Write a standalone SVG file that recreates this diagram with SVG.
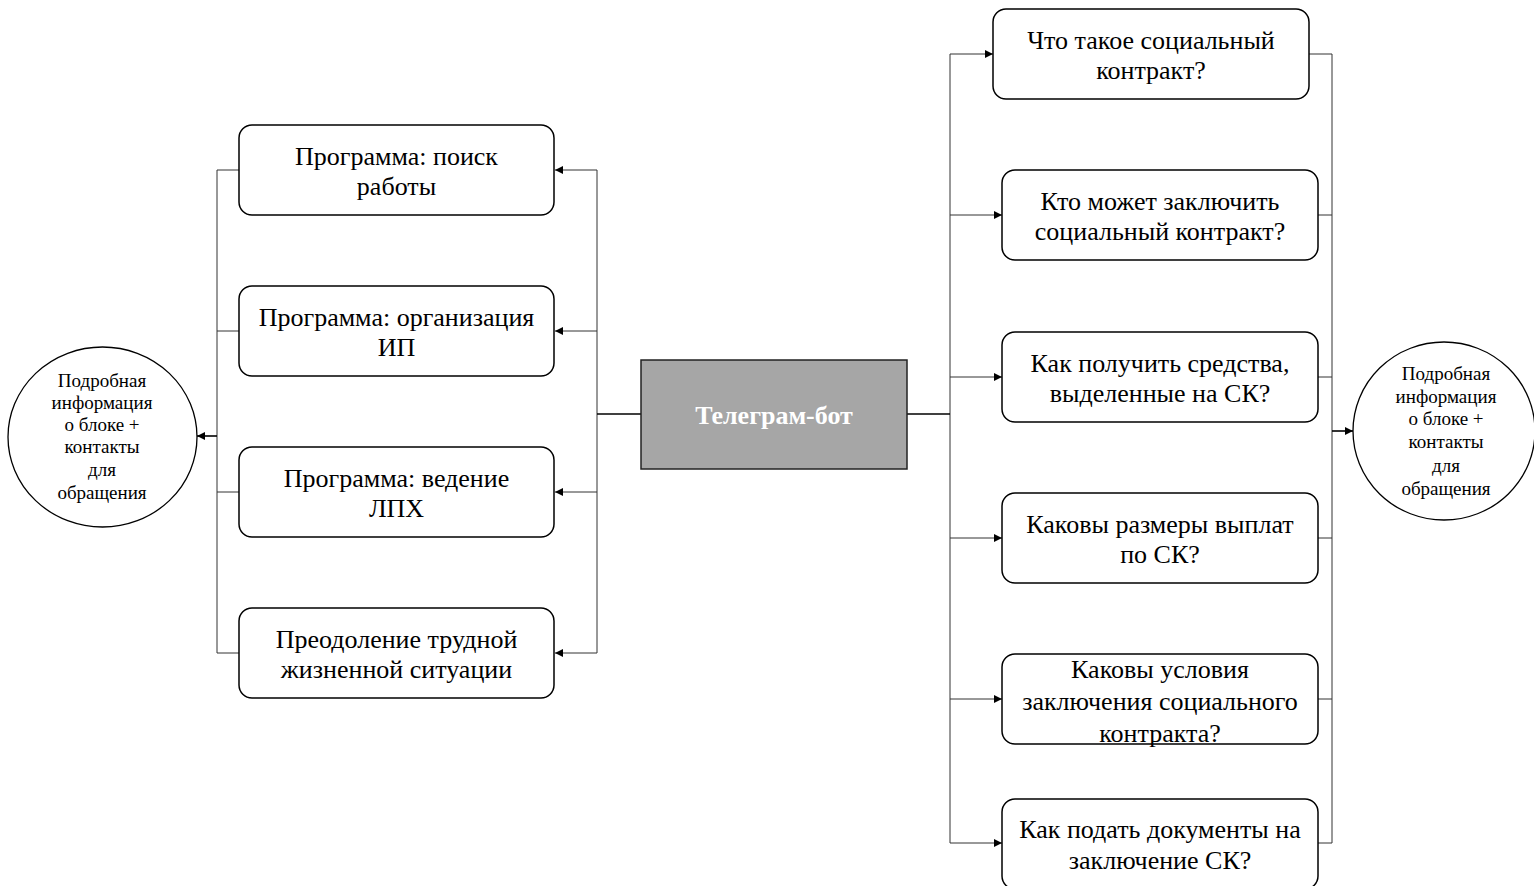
<svg xmlns="http://www.w3.org/2000/svg" width="1534" height="886" viewBox="0 0 1534 886">
<defs>
<style>
.box{fill:#fff;stroke:#000;stroke-width:1.5}
.t{font-family:"Liberation Serif","Times New Roman",serif;font-size:26px;fill:#000;text-anchor:middle}
.c{font-family:"Liberation Serif","Times New Roman",serif;font-size:19px;fill:#000;text-anchor:middle}
.ln{fill:none;stroke:#333;stroke-width:1}
.lnb{fill:none;stroke:#000;stroke-width:1.6}
</style>
<marker id="ah" viewBox="0 0 10 10" refX="10" refY="5" markerWidth="9" markerHeight="8" markerUnits="userSpaceOnUse" orient="auto">
<path d="M0,0 L10,5 L0,10 z" fill="#000"/>
</marker>
</defs>
<rect width="1534" height="886" fill="#fff"/>
<g id="connectors">
<path class="ln" d="M597,170 V653"/>
<path class="lnb" d="M597,414 H641"/>
<path class="ln" d="M597,170 H555" marker-end="url(#ah)"/>
<path class="ln" d="M597,331 H555" marker-end="url(#ah)"/>
<path class="ln" d="M597,492 H555" marker-end="url(#ah)"/>
<path class="ln" d="M597,653 H555" marker-end="url(#ah)"/>
<path class="ln" d="M217,170 V653 M239,170 H217 M239,331 H217 M239,492 H217 M239,653 H217"/>
<path class="lnb" d="M217,436 H197" marker-end="url(#ah)"/>
<path class="ln" d="M950,54 V843"/>
<path class="lnb" d="M907,414 H950"/>
<path class="ln" d="M950,54 H993" marker-end="url(#ah)"/>
<path class="ln" d="M950,215 H1002" marker-end="url(#ah)"/>
<path class="ln" d="M950,377 H1002" marker-end="url(#ah)"/>
<path class="ln" d="M950,538 H1002" marker-end="url(#ah)"/>
<path class="ln" d="M950,699 H1002" marker-end="url(#ah)"/>
<path class="ln" d="M950,843 H1002" marker-end="url(#ah)"/>
<path class="ln" d="M1332,54 V843 M1309,54 H1332 M1318,215 H1332 M1318,377 H1332 M1318,538 H1332 M1318,699 H1332 M1318,843 H1332"/>
<path class="lnb" d="M1332,431 H1353" marker-end="url(#ah)"/>
</g>
<g id="center">
<rect x="641" y="360" width="266" height="109" fill="#a6a6a6" stroke="#222" stroke-width="1.5"/>
<text x="774" y="424" font-family="Liberation Serif, serif" font-size="26" font-weight="bold" fill="#fff" text-anchor="middle">Телеграм-бот</text>
</g>
<g id="left1">
<rect class="box" x="239" y="125" width="315" height="90" rx="13"/>
<text class="t" x="396.5" y="165">Программа: поиск</text>
<text class="t" x="396.5" y="195">работы</text>
</g>
<g id="left2">
<rect class="box" x="239" y="286" width="315" height="90" rx="13"/>
<text class="t" x="396.5" y="326">Программа: организация</text>
<text class="t" x="396.5" y="356">ИП</text>
</g>
<g id="left3">
<rect class="box" x="239" y="447" width="315" height="90" rx="13"/>
<text class="t" x="396.5" y="487">Программа: ведение</text>
<text class="t" x="396.5" y="517">ЛПХ</text>
</g>
<g id="left4">
<rect class="box" x="239" y="608" width="315" height="90" rx="13"/>
<text class="t" x="396.5" y="648">Преодоление трудной</text>
<text class="t" x="396.5" y="678">жизненной ситуации</text>
</g>
<g id="leftCircle">
<ellipse cx="102.5" cy="437" rx="94.5" ry="90" fill="#fff" stroke="#000" stroke-width="1.3"/>
<text class="c" x="102" y="387">Подробная</text>
<text class="c" x="102" y="409">информация</text>
<text class="c" x="102" y="431">о блоке +</text>
<text class="c" x="102" y="453">контакты</text>
<text class="c" x="102" y="476">для</text>
<text class="c" x="102" y="499">обращения</text>
</g>
<g id="right1">
<rect class="box" x="993" y="9" width="316" height="90" rx="13"/>
<text class="t" x="1151" y="49">Что такое социальный</text>
<text class="t" x="1151" y="79">контракт?</text>
</g>
<g id="right2">
<rect class="box" x="1002" y="170" width="316" height="90" rx="13"/>
<text class="t" x="1160" y="210">Кто может заключить</text>
<text class="t" x="1160" y="240">социальный контракт?</text>
</g>
<g id="right3">
<rect class="box" x="1002" y="332" width="316" height="90" rx="13"/>
<text class="t" x="1160" y="372">Как получить средства,</text>
<text class="t" x="1160" y="402">выделенные на СК?</text>
</g>
<g id="right4">
<rect class="box" x="1002" y="493" width="316" height="90" rx="13"/>
<text class="t" x="1160" y="533">Каковы размеры выплат</text>
<text class="t" x="1160" y="563">по СК?</text>
</g>
<g id="right5">
<rect class="box" x="1002" y="654" width="316" height="90" rx="13"/>
<text class="t" x="1160" y="678">Каковы условия</text>
<text class="t" x="1160" y="710">заключения социального</text>
<text class="t" x="1160" y="742">контракта?</text>
</g>
<g id="right6">
<rect class="box" x="1002" y="799" width="316" height="90" rx="13"/>
<text class="t" x="1160" y="838">Как подать документы на</text>
<text class="t" x="1160" y="869">заключение СК?</text>
</g>
<g id="rightCircle">
<ellipse cx="1444" cy="431" rx="91" ry="89" fill="#fff" stroke="#000" stroke-width="1.3"/>
<text class="c" x="1446" y="380">Подробная</text>
<text class="c" x="1446" y="403">информация</text>
<text class="c" x="1446" y="425">о блоке +</text>
<text class="c" x="1446" y="448">контакты</text>
<text class="c" x="1446" y="472">для</text>
<text class="c" x="1446" y="495">обращения</text>
</g>
</svg>
